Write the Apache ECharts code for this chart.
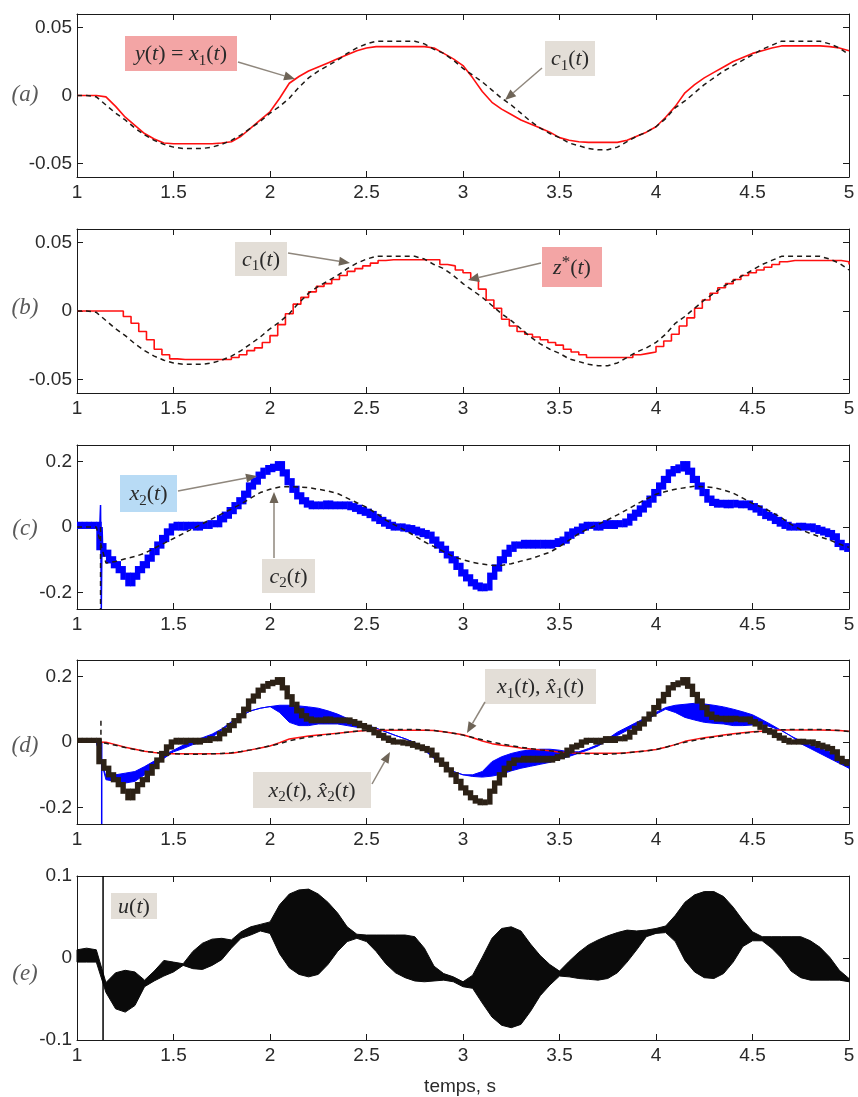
<!DOCTYPE html>
<html><head><meta charset="utf-8">
<script src="https://cdn.jsdelivr.net/npm/echarts@6/dist/echarts.min.js"></script>
<style>html,body{margin:0;padding:0;background:#fff}#c{width:858px;height:1097px}</style>
</head><body><div id="c"></div>
<script>
// ---------- time grids ----------
const T05 = Array.from({length:81},(_,i)=>+(1+i*0.05).toFixed(3));
const T04 = Array.from({length:101},(_,i)=>+(1+i*0.04).toFixed(3));
const T025 = Array.from({length:161},(_,i)=>+(1+i*0.025).toFixed(4));
const xTicks = [1,1.5,2,2.5,3,3.5,4,4.5,5];

// ---------- (a) y(t)=x1(t) and c1(t) ----------
const yX1 = [0,0,0,-0.001,-0.008,-0.016,-0.022,-0.028,-0.032,-0.035,
 -0.0355,-0.0355,-0.0355,-0.0355,-0.0355,-0.035,-0.034,-0.030,-0.024,-0.018,
 -0.012,-0.002,0.009,0.014,0.018,0.021,0.024,0.027,0.030,0.033,
 0.035,0.036,0.036,0.036,0.036,0.036,0.036,0.035,0.031,0.027,
 0.022,0.013,0.003,-0.005,-0.010,-0.014,-0.018,-0.021,-0.024,-0.027,
 -0.031,-0.033,-0.034,-0.0345,-0.0345,-0.0345,-0.0345,-0.033,-0.030,-0.027,
 -0.023,-0.016,-0.008,0.002,0.008,0.013,0.017,0.021,0.025,0.028,
 0.031,0.033,0.035,0.0365,0.0365,0.0365,0.0365,0.0365,0.036,0.035,
 0.033];
const c1 = [0,0,-0.001,-0.007,-0.013,-0.018,-0.024,-0.029,-0.033,-0.036,
 -0.038,-0.039,-0.039,-0.039,-0.038,-0.036,-0.033,-0.029,-0.024,-0.019,
 -0.013,-0.008,-0.002,0.006,0.013,0.018,0.022,0.026,0.031,0.035,
 0.038,0.040,0.040,0.040,0.040,0.040,0.038,0.034,0.031,0.026,
 0.020,0.015,0.010,0.004,-0.002,-0.007,-0.013,-0.019,-0.024,-0.028,
 -0.031,-0.035,-0.037,-0.039,-0.040,-0.040,-0.038,-0.034,-0.030,-0.027,
 -0.023,-0.017,-0.009,-0.004,0.002,0.008,0.013,0.018,0.022,0.026,
 0.030,0.034,0.037,0.040,0.040,0.040,0.040,0.040,0.038,0.035,
 0.030];

// ---------- (b) z*(t) (held samples) ----------
const zStar = [0,0,0,0,0,0,-0.004,-0.009,-0.015,-0.021,
 -0.028,-0.032,-0.035,-0.0355,-0.0355,-0.0355,-0.0355,-0.0355,-0.0355,-0.0355,
 -0.034,-0.032,-0.029,-0.027,-0.023,-0.018,-0.010,-0.002,0.005,0.010,
 0.014,0.018,0.020,0.023,0.026,0.029,0.031,0.033,0.035,0.037,
 0.0375,0.0375,0.0375,0.0375,0.0375,0.0375,0.0375,0.034,0.033,0.030,
 0.028,0.023,0.016,0.008,0.002,-0.006,-0.011,-0.015,-0.017,-0.019,
 -0.021,-0.023,-0.025,-0.028,-0.030,-0.032,-0.034,-0.034,-0.034,-0.034,
 -0.034,-0.034,-0.032,-0.031,-0.030,-0.026,-0.022,-0.017,-0.011,-0.005,
 0.002,0.008,0.013,0.017,0.020,0.023,0.026,0.028,0.030,0.032,
 0.034,0.036,0.037,0.037,0.037,0.037,0.037,0.037,0.037,0.036,
 0.034];

// ---------- (c) x2(t) and c2(t) ----------
const x2 = [0.005,0.005,0.005,0.005,0.005,-0.06,-0.08,-0.10,-0.115,-0.13,
 -0.15,-0.17,-0.15,-0.13,-0.115,-0.095,-0.075,-0.055,-0.035,-0.015,
 0,0.005,0,0.005,0.005,0,0.005,0.005,0.01,0.01,
 0.025,0.036,0.05,0.065,0.08,0.10,0.125,0.14,0.158,0.17,
 0.178,0.182,0.19,0.165,0.138,0.115,0.095,0.08,0.07,0.065,
 0.067,0.065,0.07,0.065,0.067,0.065,0.067,0.062,0.057,0.05,
 0.045,0.038,0.028,0.02,0.012,0.005,0,0,-0.003,-0.005,
 -0.01,-0.015,-0.02,-0.025,-0.04,-0.055,-0.068,-0.085,-0.10,-0.12,
 -0.14,-0.155,-0.17,-0.18,-0.185,-0.183,-0.15,-0.125,-0.10,-0.08,
 -0.065,-0.055,-0.055,-0.05,-0.055,-0.05,-0.055,-0.05,-0.055,-0.05,
 -0.045,-0.04,-0.025,-0.015,-0.01,0,0.005,0.005,0,0.005,
 0.01,0.005,0.01,0.01,0.015,0.03,0.042,0.055,0.07,0.085,
 0.105,0.125,0.145,0.165,0.175,0.18,0.19,0.17,0.145,0.125,
 0.105,0.085,0.075,0.07,0.072,0.068,0.072,0.07,0.068,0.07,
 0.062,0.055,0.045,0.035,0.03,0.02,0.012,0.005,0,0,
 0.002,0,0,-0.005,-0.01,-0.015,-0.02,-0.03,-0.05,-0.06,
 -0.065];
const c2 = [0,0,0,-0.11,-0.105,-0.097,-0.09,-0.08,-0.065,-0.05,
 -0.035,-0.02,-0.005,0.01,0.025,0.04,0.055,0.07,0.088,0.105,
 0.115,0.122,0.123,0.122,0.12,0.115,0.11,0.102,0.088,0.074,
 0.06,0.042,0.021,0.005,-0.01,-0.027,-0.045,-0.06,-0.075,-0.09,
 -0.1,-0.108,-0.113,-0.117,-0.117,-0.112,-0.104,-0.097,-0.087,-0.077,
 -0.06,-0.04,-0.02,-0.005,0.008,0.022,0.037,0.053,0.07,0.085,
 0.1,0.108,0.115,0.12,0.124,0.123,0.12,0.113,0.103,0.088,
 0.072,0.06,0.045,0.028,0.008,-0.008,-0.02,-0.03,-0.04,-0.052,
 -0.062];
const x2SpikeT = [1.118,1.122,1.126,1.130,1.134];
const x2SpikeV = [0,0.067,-0.25,0.0,-0.08];
const c2SpikeT = [1.122,1.122];
const c2SpikeV = [0,-0.25];

// ---------- (d) estimates ----------
const xHat1 = [0,0,0,-0.004,-0.010,-0.017,-0.023,-0.028,-0.032,-0.035,
 -0.036,-0.037,-0.037,-0.037,-0.036,-0.035,-0.033,-0.029,-0.024,-0.018,
 -0.012,-0.005,0.004,0.010,0.015,0.019,0.023,0.026,0.030,0.033,
 0.036,0.038,0.038,0.038,0.038,0.038,0.037,0.035,0.031,0.027,
 0.021,0.014,0.007,0.000,-0.006,-0.011,-0.016,-0.020,-0.024,-0.027,
 -0.030,-0.033,-0.035,-0.036,-0.037,-0.037,-0.036,-0.033,-0.030,-0.027,
 -0.023,-0.016,-0.008,-0.001,0.005,0.011,0.015,0.019,0.023,0.027,
 0.030,0.033,0.035,0.037,0.038,0.038,0.038,0.038,0.037,0.035,
 0.032];
const x2dHi = [0,0,0,-0.105,-0.10,-0.095,-0.09,-0.075,-0.058,-0.04,
 -0.025,-0.01,0.003,0.013,0.024,0.04,0.062,0.08,0.095,0.103,
 0.108,0.112,0.112,0.11,0.107,0.103,0.095,0.085,0.072,0.06,
 0.051,0.042,0.031,0.02,0.01,-0.002,-0.02,-0.045,-0.065,-0.09,
 -0.1,-0.1,-0.09,-0.06,-0.045,-0.035,-0.028,-0.024,-0.022,-0.022,
 -0.025,-0.03,-0.03,-0.02,-0.008,0.01,0.03,0.045,0.06,0.075,
 0.09,0.105,0.112,0.115,0.118,0.116,0.112,0.107,0.1,0.092,
 0.083,0.068,0.052,0.035,0.018,0.003,-0.01,-0.02,-0.03,-0.045,
 -0.06];
const x2dLo = [0,0,0,-0.115,-0.12,-0.125,-0.12,-0.10,-0.075,-0.05,
 -0.03,-0.02,-0.008,0,0.015,0.035,0.06,0.08,0.095,0.103,
 0.108,0.09,0.06,0.05,0.05,0.055,0.055,0.055,0.05,0.045,
 0.045,0.042,0.031,0.02,0.01,-0.002,-0.025,-0.05,-0.07,-0.09,
 -0.1,-0.105,-0.107,-0.104,-0.098,-0.088,-0.08,-0.074,-0.068,-0.062,
 -0.052,-0.044,-0.034,-0.024,-0.012,0.005,0.02,0.035,0.05,0.065,
 0.085,0.1,0.09,0.075,0.067,0.06,0.057,0.055,0.05,0.05,
 0.052,0.055,0.045,0.035,0.018,-0.005,-0.02,-0.035,-0.05,-0.065,
 -0.08];
const dBlueSpikeT = [1.128,1.128];
const dBlueSpikeV = [0,-0.25];
const dDarkSpikeT = [1.124,1.124];
const dDarkSpikeV = [0.065,-0.02];

// ---------- (e) u(t) chattering envelope ----------
const uHi = [0.01,0.012,0.01,-0.03,-0.018,-0.015,-0.017,-0.027,-0.016,-0.003,
 -0.005,-0.007,0.008,0.018,0.023,0.024,0.022,0.032,0.038,0.041,
 0.044,0.065,0.078,0.083,0.084,0.078,0.068,0.055,0.038,0.029,
 0.028,0.028,0.028,0.028,0.028,0.026,0.012,-0.01,-0.019,-0.023,
 -0.029,-0.021,0.001,0.024,0.036,0.038,0.033,0.017,0.003,-0.008,
 -0.016,-0.004,0.007,0.016,0.022,0.027,0.031,0.034,0.033,0.034,
 0.036,0.039,0.052,0.068,0.077,0.081,0.081,0.075,0.062,0.046,
 0.032,0.026,0.026,0.026,0.026,0.026,0.021,0.013,0.001,-0.015,
 -0.025];
const uLo = [-0.005,-0.005,-0.005,-0.042,-0.062,-0.066,-0.058,-0.035,-0.028,-0.022,
 -0.017,-0.009,-0.013,-0.014,-0.009,-0.002,0.012,0.024,0.028,0.033,
 0.03,0.005,-0.012,-0.02,-0.023,-0.02,-0.008,0.008,0.02,0.024,
 0.02,0.008,-0.007,-0.018,-0.024,-0.028,-0.029,-0.028,-0.027,-0.029,
 -0.035,-0.037,-0.055,-0.072,-0.082,-0.085,-0.081,-0.065,-0.046,-0.033,
 -0.022,-0.023,-0.025,-0.026,-0.027,-0.025,-0.018,-0.005,0.01,0.026,
 0.03,0.031,0.02,-0.003,-0.017,-0.024,-0.025,-0.019,-0.005,0.014,
 0.021,0.021,0.012,0,-0.016,-0.024,-0.027,-0.027,-0.027,-0.027,
 -0.029];
const uSpikeT = [1.135,1.135];
const uSpikeV = [0.1,-0.1];

// ---------- layout ----------
const panels = [
  {top:14, h:163, min:-0.06, max:0.06, ticks:[-0.05,0,0.05], tag:'(a)', tagY:95},
  {top:229,h:164, min:-0.06, max:0.06, ticks:[-0.05,0,0.05], tag:'(b)', tagY:308},
  {top:445,h:164, min:-0.25, max:0.25, ticks:[-0.2,0,0.2], tag:'(c)', tagY:529},
  {top:660,h:164, min:-0.25, max:0.25, ticks:[-0.2,0,0.2], tag:'(d)', tagY:746},
  {top:876,h:164, min:-0.1, max:0.1, ticks:[-0.1,0,0.1], tag:'(e)', tagY:974}
];
const AX = '#1a1a1a';
const LBL = {fontFamily:'Liberation Sans', fontSize:19, color:'#2a2a2a'};
const grid=[], xAxis=[], yAxis=[];
panels.forEach((p,i)=>{
  grid.push({left:77, right:9, top:p.top, height:p.h, containLabel:false});
  const xa = {gridIndex:i, type:'value', min:1, max:5, interval:0.5,
    axisLine:{show:true, onZero:false, lineStyle:{color:AX, width:1}},
    axisTick:{show:true, inside:true, length:6, lineStyle:{color:AX}},
    splitLine:{show:false}};
  xAxis.push(Object.assign({}, xa, {position:'bottom', axisLabel:Object.assign({margin:6}, LBL)}));
  xAxis.push(Object.assign({}, xa, {position:'top', axisLabel:{show:false}}));
  const ya = {gridIndex:i, type:'value', min:p.min, max:p.max,
    axisLine:{show:true, onZero:false, lineStyle:{color:AX, width:1}},
    axisTick:{show:true, inside:true, length:6, customValues:p.ticks, lineStyle:{color:AX}},
    splitLine:{show:false}};
  yAxis.push(Object.assign({}, ya, {position:'left', axisLabel:Object.assign({margin:5, customValues:p.ticks}, LBL)}));
  yAxis.push(Object.assign({}, ya, {position:'right', axisLabel:{show:false}}));
});

const P = (T,V)=>T.map((t,k)=>[t,V[k]]);
function line(pi, T, V, color, width, opt){
  return Object.assign({type:'line', xAxisIndex:2*pi, yAxisIndex:2*pi, data:P(T,V),
    symbol:'none', silent:true, animation:false,
    lineStyle:{color:color, width:width}}, opt||{});
}
function dashed(pi,T,V,z){ return line(pi,T,V,'#1e1a16',1.5,{z:z, lineStyle:{color:'#1e1a16', width:1.5, type:[5,4]}}); }
function band(pi, T, hi, lo, color, z){
  return {type:'custom', xAxisIndex:2*pi, yAxisIndex:2*pi, z:z, silent:true, animation:false,
    data:[[T[0], hi[0]]], encode:{x:0, y:1},
    renderItem:(params, api)=>{
      const pts=[];
      for(let k=0;k<T.length;k++) pts.push(api.coord([T[k],hi[k]]));
      for(let k=T.length-1;k>=0;k--) pts.push(api.coord([T[k],lo[k]]));
      return {type:'polygon', shape:{points:pts}, style:{fill:color, stroke:color, lineWidth:1}};
    }};
}
// held blocks: each sample drawn as a block spanning its hold interval (thick stair line)
function blocks(pi, T, V, half, color, z){
  const data = [];
  for(let k=0;k<T.length-1;k++) data.push([T[k], V[k], T[k+1], V[k+1]]);
  return {type:'custom', xAxisIndex:2*pi, yAxisIndex:2*pi, z:z, silent:true, animation:false,
    data:data, encode:{x:[0,2], y:[1,3]},
    renderItem:(params, api)=>{
      const t0=api.value(0), v0=api.value(1), t1=api.value(2), v1=api.value(3);
      const a = api.coord([t0, Math.max(v0,v1)+half]);
      const b = api.coord([t1, Math.min(v0,v1)-half]);
      return {type:'rect', shape:{x:a[0], y:a[1], width:b[0]-a[0]+0.6, height:b[1]-a[1]},
        style:{fill:color}};
    }};
}

const RED='#ff1010', BLUE='#0000ff', DARK='#2c2116';
const series = [
  // (a)
  line(0, T05, yX1, RED, 1.6, {z:2}),
  dashed(0, T05, c1, 3),
  // (b)
  line(1, T04, zStar, RED, 1.6, {z:2, step:'end'}),
  dashed(1, T05, c1, 3),
  // (c)
  blocks(2, T025, x2, 0.011, BLUE, 2),
  line(2, x2SpikeT, x2SpikeV, BLUE, 1.5, {z:2}),
  dashed(2, T05, c2, 3),
  dashed(2, c2SpikeT, c2SpikeV, 3),
  // (d)
  band(3, T05, x2dHi, x2dLo, BLUE, 2),
  line(3, dBlueSpikeT, dBlueSpikeV, BLUE, 1.5, {z:2}),
  line(3, T05, yX1, RED, 1.5, {z:3}),
  dashed(3, T05, xHat1, 4),
  blocks(3, T025, x2, 0.008, DARK, 5),
  dashed(3, dDarkSpikeT, dDarkSpikeV, 5),
  // (e)
  band(4, T05, uHi, uLo, '#0a0a0a', 2),
  line(4, uSpikeT, uSpikeV, '#000', 1.5, {z:3})
];

// ---------- annotations ----------
const PINK='#f3a5a5', GRAY='#e3ded7', LBLUE='#b8dbf5';
const rich = {
  i:{font:'italic 22px "Liberation Serif"', fill:'#2a2a2a', lineHeight:28},
  r:{font:'22px "Liberation Serif"', fill:'#2a2a2a', lineHeight:28},
  s:{font:'15px "Liberation Serif"', fill:'#2a2a2a', verticalAlign:'bottom', lineHeight:15},
  p:{font:'17px "Liberation Serif"', fill:'#2a2a2a', verticalAlign:'top', lineHeight:17}
};
const notes = [
  {x:125,y:36,w:112,h:35,c:PINK, t:'{i|y}{r|(}{i|t}{r|) = }{i|x}{s|1}{r|(}{i|t}{r|)}'},
  {x:545,y:41,w:50,h:35,c:GRAY, t:'{i|c}{s|1}{r|(}{i|t}{r|)}'},
  {x:235,y:242,w:52,h:34,c:GRAY, t:'{i|c}{s|1}{r|(}{i|t}{r|)}'},
  {x:542,y:247,w:60,h:40,c:PINK, t:'{i|z}{p|*}{r|(}{i|t}{r|)}'},
  {x:120,y:475,w:57,h:37,c:LBLUE, t:'{i|x}{s|2}{r|(}{i|t}{r|)}'},
  {x:262,y:559,w:53,h:34,c:GRAY, t:'{i|c}{s|2}{r|(}{i|t}{r|)}'},
  {x:485,y:669,w:111,h:35,c:GRAY, t:'{i|x}{s|1}{r|(}{i|t}{r|), }{i|x\u0302}{s|1}{r|(}{i|t}{r|)}'},
  {x:253,y:772,w:118,h:36,c:GRAY, t:'{i|x}{s|2}{r|(}{i|t}{r|), }{i|x\u0302}{s|2}{r|(}{i|t}{r|)}'},
  {x:111,y:893,w:46,h:26,c:GRAY, t:'{i|u}{r|(}{i|t}{r|)}'}
];
const arrows = [
  [238,62,295,79],[542,68,505,100],[288,253,350,263],[541,263,468,280],
  [178,491,257,476],[274,558,274,492],[485,702,467,733],[372,784,390,752]
];
const graphic = [];
notes.forEach(n=>{
  graphic.push({type:'rect', shape:{x:n.x,y:n.y,width:n.w,height:n.h}, style:{fill:n.c}, z:100});
  graphic.push({type:'text', x:n.x+n.w/2, y:n.y+n.h/2+1, z:101,
    style:{text:n.t, rich:rich, font:'22px "Liberation Serif"', fill:'#2a2a2a',
      align:'center', verticalAlign:'middle', textAlign:'center', textVerticalAlign:'middle'}});
});
arrows.forEach(a=>{
  const [x1,y1,x2p,y2p]=a; const dx=x2p-x1, dy=y2p-y1, L=Math.hypot(dx,dy);
  const ux=dx/L, uy=dy/L, hl=11, hw=4.5;
  const bx=x2p-ux*hl, by=y2p-uy*hl;
  graphic.push({type:'line', shape:{x1:x1,y1:y1,x2:bx,y2:by}, style:{stroke:'#8f877d', lineWidth:1.5}, z:100});
  graphic.push({type:'polygon', shape:{points:[[x2p,y2p],[bx-uy*hw,by+ux*hw],[bx+uy*hw,by-ux*hw]]},
    style:{fill:'#6e6457'}, z:100});
});
panels.forEach(p=>{
  graphic.push({type:'text', x:25, y:p.tagY, z:100,
    style:{text:p.tag, font:'italic 23px "Liberation Serif"', fill:'#5a5a5a',
      align:'center', verticalAlign:'middle', textAlign:'center', textVerticalAlign:'middle'}});
});
graphic.push({type:'text', x:460, y:1087, z:100,
  style:{text:'temps, s', font:'19px "Liberation Sans"', fill:'#2a2a2a',
    align:'center', verticalAlign:'middle', textAlign:'center', textVerticalAlign:'middle'}});

const chart = echarts.init(document.getElementById('c'), null, {renderer:'canvas'});
chart.setOption({animation:false, backgroundColor:'#fff', grid, xAxis, yAxis, series, graphic});
</script></body></html>
